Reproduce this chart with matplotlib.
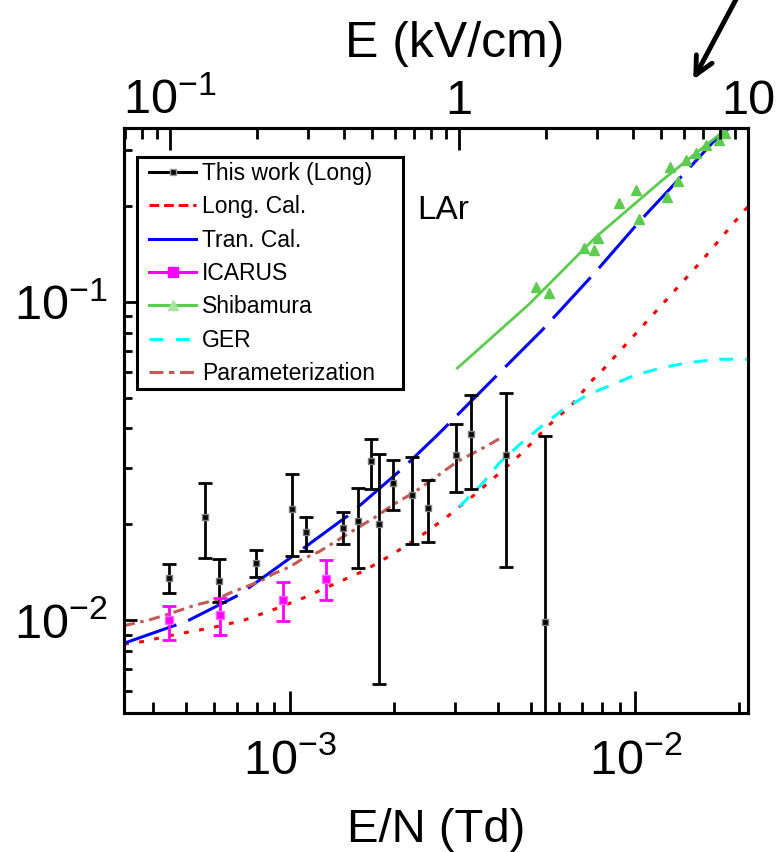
import matplotlib
matplotlib.use('Agg')
import matplotlib.pyplot as plt
from matplotlib.lines import Line2D
from matplotlib.patches import Rectangle
from matplotlib.ticker import LogLocator, FixedLocator, FixedFormatter, NullFormatter

plt.rcParams['font.family'] = ['Liberation Sans', 'DejaVu Sans']
plt.rcParams['mathtext.fontset'] = 'custom'
plt.rcParams['mathtext.rm'] = 'Liberation Sans'
plt.rcParams['mathtext.default'] = 'regular'
plt.rcParams['lines.scale_dashes'] = False

# This work (Long): E/N, value, lower and upper end of error bar
work_x = [4.46e-4, 5.66e-4, 6.23e-4, 7.95e-4, 1.01e-3, 1.114e-3, 1.425e-3, 1.567e-3, 1.714e-3,
          1.803e-3, 1.99e-3, 2.25e-3, 2.5e-3, 3.03e-3, 3.34e-3, 4.22e-3, 5.47e-3]
work_y = [0.01355, 0.0211, 0.01328, 0.01514, 0.0223, 0.0189, 0.0195, 0.0204, 0.0316,
          0.0200, 0.0269, 0.0248, 0.0225, 0.033, 0.0384, 0.033, 0.00984]
work_lo = [0.01216, 0.0157, 0.0114, 0.0137, 0.0159, 0.0165, 0.0173, 0.0146, 0.0258,
           0.0063, 0.0222, 0.0173, 0.0176, 0.0252, 0.0258, 0.0147, 0.001]
work_hi = [0.0150, 0.027, 0.0156, 0.0166, 0.0287, 0.0211, 0.0219, 0.026, 0.037,
           0.0333, 0.0318, 0.0325, 0.0275, 0.0412, 0.051, 0.0518, 0.0379]

# ICARUS
icarus_x = [4.46e-4, 6.27e-4, 9.56e-4, 1.27e-3]
icarus_y = [0.0100, 0.0104, 0.01156, 0.01343]
icarus_lo = [0.00866, 0.00897, 0.00995, 0.01156]
icarus_hi = [0.0111, 0.0117, 0.0132, 0.0154]

# Long. Cal.
long_x = [3.3e-4, 3.73e-4, 4.71e-4, 5.82e-4, 7.28e-4, 8.89e-4, 1.086e-3, 1.326e-3, 1.639e-3,
          1.98e-3, 2.39e-3, 2.83e-3, 3.41e-3, 4.03e-3, 4.71e-3, 5.5e-3, 6.58e-3, 7.52e-3,
          8.04e-3, 1.005e-2, 1.255e-2, 1.567e-2, 2.07e-2, 2.13e-2]
long_y = [0.0084, 0.00855, 0.00903, 0.00942, 0.00995, 0.01075, 0.0117, 0.0129, 0.01429,
          0.0161, 0.01837, 0.021, 0.0247, 0.0289, 0.0336, 0.0401, 0.0478, 0.0569,
          0.0611, 0.0797, 0.104, 0.1357, 0.194, 0.2]

# Tran. Cal.
tran_x = [3.3e-4, 4.66e-4, 5.1e-4, 7.11e-4, 1.027e-3, 1.48e-3, 2.12e-3, 2.7e-3, 4.03e-3,
          5.38e-3, 7.64e-3, 1.027e-2, 1.42e-2, 1.675e-2, 1.87e-2]
tran_y = [0.00845, 0.00964, 0.0100, 0.0120, 0.0160, 0.0214, 0.0300, 0.0386, 0.0597,
          0.0817, 0.1236, 0.1788, 0.2606, 0.317, 0.352]

# Shibamura
shiba_line_x = [3.05e-3, 4.93e-3, 7.69e-3, 1.2e-2, 1.85e-2]
shiba_line_y = [0.0619, 0.0985, 0.16, 0.2418, 0.352]
shiba_x = [5.15e-3, 5.61e-3, 7.11e-3, 7.6e-3, 7.78e-3, 8.99e-3, 1.005e-2, 1.023e-2, 1.233e-2,
           1.26e-2, 1.33e-2, 1.40e-2, 1.5e-2, 1.6e-2, 1.75e-2, 1.82e-2]
shiba_y = [0.1117, 0.1069, 0.1476, 0.1457, 0.1585, 0.204, 0.225, 0.182, 0.214,
           0.266, 0.239, 0.28, 0.294, 0.312, 0.323, 0.339]

# GER
ger_x = [3.09e-3, 3.61e-3, 4.03e-3, 4.66e-3, 5.33e-3, 6.15e-3, 7.27e-3, 1.005e-2, 1.21e-2,
         1.45e-2, 1.75e-2, 2.13e-2]
ger_y = [0.02271, 0.0269, 0.0311, 0.0359, 0.0405, 0.0457, 0.051, 0.059, 0.0623,
         0.0646, 0.066, 0.066]

# Parameterization
par_x = [3.3e-4, 3.9e-4, 4.36e-4, 5.33e-4, 6.09e-4, 6.65e-4, 7.28e-4, 8.13e-4, 8.89e-4, 1e-3,
         1.074e-3, 1.213e-3, 1.326e-3, 1.45e-3, 1.77e-3, 1.98e-3, 2.26e-3, 2.53e-3, 3.05e-3,
         3.69e-3, 4.1e-3]
par_y = [0.0096, 0.0100, 0.01037, 0.01115, 0.01156, 0.01213, 0.0126, 0.01319, 0.01393, 0.01471,
         0.01545, 0.0164, 0.0174, 0.0185, 0.0211, 0.023, 0.025, 0.0272, 0.0315,
         0.0351, 0.0375]

labels = ['This work (Long)', 'Long. Cal.', 'Tran. Cal.', 'ICARUS', 'Shibamura', 'GER',
          'Parameterization']

GREEN = '#5ccc4e'
BROWN = '#c25a56'

fig = plt.figure(figsize=(7.77, 8.52), dpi=100)
ax = fig.add_axes([0.1596, 0.1631, 0.8031, 0.6867])

ax.plot(long_x, long_y, color='red', lw=2.2, ls=(0, (3.5, 7.5)))
ax.plot(tran_x, tran_y, color='blue', lw=2.2, ls=(0, (40, 9)))
ax.plot(ger_x, ger_y, color='cyan', lw=2.2, ls=(0, (10, 8.5)))
ax.plot(par_x, par_y, color=BROWN, lw=2.2, ls=(0, (8, 4, 2.5, 4)))
ax.plot(shiba_line_x, shiba_line_y, color=GREEN, lw=2)
ax.plot(shiba_x, shiba_y, ls='none', marker='^', ms=6.5, color=GREEN, mec=GREEN)

yerr_w = [[y - lo for y, lo in zip(work_y, work_lo)], [hi - y for y, hi in zip(work_y, work_hi)]]
ax.errorbar(work_x, work_y, yerr=yerr_w, fmt='s', ms=5, color='k', mfc='k', mec='0.5',
            ecolor='k', elinewidth=2, capsize=5, capthick=2)
yerr_i = [[y - lo for y, lo in zip(icarus_y, icarus_lo)], [hi - y for y, hi in zip(icarus_y, icarus_hi)]]
ax.errorbar(icarus_x, icarus_y, yerr=yerr_i, fmt='s', ms=5.5, color='magenta', mec='#ff66ff',
            ecolor='magenta', elinewidth=2, capsize=5, capthick=2)

ax.set_xscale('log')
ax.set_yscale('log')
ax.set_xlim(3.3e-4, 2.12e-2)
ax.set_ylim(0.0051, 0.352)

ax.xaxis.set_minor_locator(LogLocator(base=10, subs=range(2, 10)))
ax.yaxis.set_minor_locator(LogLocator(base=10, subs=range(2, 10)))
ax.xaxis.set_minor_formatter(NullFormatter())
ax.yaxis.set_minor_formatter(NullFormatter())

for s in ax.spines.values():
    s.set_linewidth(2.2)
ax.tick_params(axis='x', which='major', direction='in', length=15.5, width=2, labelsize=35, pad=18,
               top=False)
ax.tick_params(axis='x', which='minor', direction='in', length=8, width=2, top=False)
ax.tick_params(axis='y', which='major', direction='in', length=9.5, width=2, labelsize=35, pad=12,
               right=False)
ax.tick_params(axis='y', which='minor', direction='in', length=6, width=2, right=False)
ax.set_xlabel('E/N (Td)', fontsize=34, labelpad=17)

# top axis, E in kV/cm
ax2 = ax.twiny()
ax2.set_xscale('log')
ax2.set_xlim(0.0693, 10)
ax2.xaxis.set_major_locator(FixedLocator([0.1, 1, 10]))
ax2.xaxis.set_major_formatter(FixedFormatter(['$10^{-1}$', '1', '10']))
ax2.xaxis.set_minor_locator(LogLocator(base=10, subs=range(2, 10)))
ax2.xaxis.set_minor_formatter(NullFormatter())
ax2.tick_params(axis='x', which='major', direction='in', length=15.5, width=2, labelsize=35, pad=3)
ax2.tick_params(axis='x', which='minor', direction='in', length=8, width=2)
ax2.set_xlabel('E (kV/cm)', fontsize=36)
ax2.xaxis.set_label_coords(0.530, 1.121)
for s in ax2.spines.values():
    s.set_linewidth(2.2)

ax.text(0.4696, 0.8444, 'LAr', transform=ax.transAxes, fontsize=24, va='baseline', ha='left')

# legend: box drawn separately so the padding matches
ax.add_patch(Rectangle((0.0208, 0.5538), 0.4263, 0.3966, transform=ax.transAxes,
                       facecolor='white', edgecolor='k', lw=2.2, zorder=4.5))
handles = [
    Line2D([], [], color='k', lw=2.2, marker='s', ms=5, mfc='k', mec='0.6'),
    Line2D([], [], color='red', lw=2.2, ls=(0, (7, 3.5))),
    Line2D([], [], color='blue', lw=2.2),
    Line2D([], [], color='magenta', lw=2.2, marker='s', ms=7),
    Line2D([], [], color=GREEN, lw=2.2, marker='^', ms=6.5, mfc='#a8e6a0', mec='#a8e6a0'),
    Line2D([], [], color='cyan', lw=2.2, ls=(0, (10, 9))),
    Line2D([], [], color=BROWN, lw=2.2, ls=(0, (10, 4, 4, 4))),
]
leg = ax.legend(handles, labels, loc='upper left', bbox_to_anchor=(0.0401, 0.9419), borderaxespad=0,
                fontsize=16.5, handlelength=2.05, handletextpad=0.26, labelspacing=0.45,
                borderpad=0, frameon=False)

# arrow at top right
ax.annotate('', xy=(692, 770), xycoords='figure pixels', xytext=(741, 862),
            textcoords='figure pixels', annotation_clip=False,
            arrowprops=dict(arrowstyle='->', lw=3.5, color='k', mutation_scale=32))

fig.savefig('out.png', dpi=100)
